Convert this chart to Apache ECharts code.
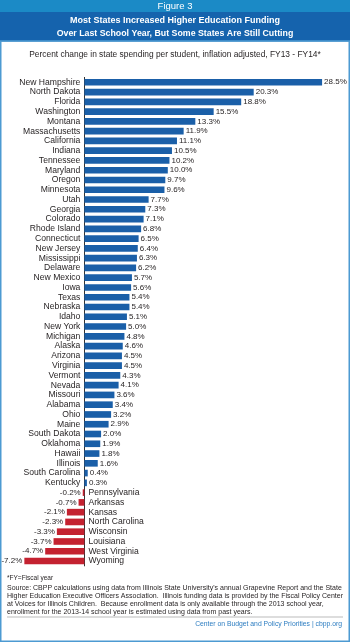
<!DOCTYPE html>
<html><head><meta charset="utf-8">
<script src="https://cdn.jsdelivr.net/npm/echarts@6/dist/echarts.min.js"></script>
<style>html,body{margin:0;padding:0;background:#fff}#c{width:350px;height:642px}</style>
</head><body><div id="c"></div>
<script>
const states = ['New Hampshire','North Dakota','Florida','Washington','Montana','Massachusetts','California','Indiana','Tennessee','Maryland','Oregon','Minnesota','Utah','Georgia','Colorado','Rhode Island','Connecticut','New Jersey','Mississippi','Delaware','New Mexico','Iowa','Texas','Nebraska','Idaho','New York','Michigan','Alaska','Arizona','Virginia','Vermont','Nevada','Missouri','Alabama','Ohio','Maine','South Dakota','Oklahoma','Hawaii','Illinois','South Carolina','Kentucky','Pennsylvania','Arkansas','Kansas','North Carolina','Wisconsin','Louisiana','West Virginia','Wyoming'];
const changes = [28.5,20.3,18.8,15.5,13.3,11.9,11.1,10.5,10.2,10.0,9.7,9.6,7.7,7.3,7.1,6.8,6.5,6.4,6.3,6.2,5.7,5.6,5.4,5.4,5.1,5.0,4.8,4.6,4.5,4.5,4.3,4.1,3.6,3.4,3.2,2.9,2.0,1.9,1.8,1.6,0.4,0.3,-0.2,-0.7,-2.1,-2.3,-3.3,-3.7,-4.7,-7.2];
const figureLabel = 'Figure 3';
const titleLines = ['Most States Increased Higher Education Funding','Over Last School Year, But Some States Are Still Cutting'];
const subtitle = 'Percent change in state spending per student, inflation adjusted, FY13 - FY14*';
const footnote = '*FY=Fiscal year';
const sourceLines = [
 "Source: CBPP calculations using data from Illinois State University's annual Grapevine Report and the State",
 "Higher Education Executive Officers Association.  Illinois funding data is provided by the Fiscal Policy Center",
 "at Voices for Illinois Children.  Because enrollment data is only available through the 2013 school year,",
 "enrollment for the 2013-14 school year is estimated using data from past years."
];
const credit = 'Center on Budget and Policy Priorities | cbpp.org';

const SANS = '"Liberation Sans",Arial,sans-serif';
const BLUE = '#1a5fa8', RED = '#c42230', TXT = '#231f20';

const chart = echarts.init(document.getElementById('c'), null, {renderer:'canvas'});
const barData = changes.map(v => ({
  value: v,
  itemStyle: {color: v < 0 ? RED : BLUE},
  label: {position: v < 0 ? 'left' : 'right'}
}));
// zero-length helper bars on the axis that carry the state names:
// left of the axis for increases, right of the axis for cuts
const nameData = changes.map(v => ({
  value: 0,
  label: {position: v < 0 ? 'right' : 'left'}
}));

const graphics = [
  {type:'rect', shape:{x:0,y:0,width:350,height:12}, style:{fill:'#1b8ac6'}, silent:true},
  {type:'rect', shape:{x:0,y:12,width:350,height:29.5}, style:{fill:'#1563ad'}, silent:true},
  {type:'rect', shape:{x:0.75,y:41,width:348.5,height:600.25}, style:{fill:'none', stroke:'#4c9ad2', lineWidth:1.5}, silent:true},
  {type:'text', x:175, y:6.5, style:{text:figureLabel, fill:'#fff', font:'9.5px '+SANS, textAlign:'center', textVerticalAlign:'middle'}},
  {type:'text', x:175, y:20.5, style:{text:titleLines[0], fill:'#fff', font:'bold 9px '+SANS, textAlign:'center', textVerticalAlign:'middle'}},
  {type:'text', x:175, y:33.5, style:{text:titleLines[1], fill:'#fff', font:'bold 8.8px '+SANS, textAlign:'center', textVerticalAlign:'middle'}},
  {type:'text', x:175, y:55, style:{text:subtitle, fill:TXT, font:'8.4px '+SANS, textAlign:'center', textVerticalAlign:'middle'}},
  {type:'text', x:7, y:578, style:{text:footnote, fill:TXT, font:'6.5px '+SANS, textVerticalAlign:'middle'}},
  {type:'line', shape:{x1:7,y1:617,x2:343,y2:617}, style:{stroke:'#aaa', lineWidth:0.8}},
  {type:'text', x:342, y:624.5, style:{text:credit, fill:'#2d7dc1', font:'6.8px '+SANS, textAlign:'right', textVerticalAlign:'middle'}}
];
sourceLines.forEach((t,i) => graphics.push({type:'text', x:7, y:588.5 + i*7.8,
  style:{text:t, fill:TXT, font:'7px '+SANS, textVerticalAlign:'middle'}}));

chart.setOption({
  animation:false,
  grid:{left:1, right:15.4, top:77.4, bottom:642-565.9, containLabel:false, outerBoundsMode:'none'},
  xAxis:{type:'value', min:-10, max:30, show:false},
  yAxis:{type:'category', inverse:true, data:states,
    axisLine:{onZero:true, lineStyle:{color:'#333', width:1}},
    axisTick:{show:false},
    axisLabel:{show:false}
  },
  series:[
    {type:'bar', data:barData, barCategoryGap:'32%', barGap:'-100%',
      label:{show:true, distance:2, color:TXT, fontFamily:SANS, fontSize:8,
        formatter:p => p.value.toFixed(1)+'%'}
    },
    {type:'bar', data:nameData, barGap:'-100%', silent:true,
      itemStyle:{color:'transparent'},
      label:{show:true, distance:4, color:TXT, fontFamily:SANS, fontSize:8.6,
        formatter:p => p.name}
    }
  ],
  graphic:graphics
});
</script></body></html>
